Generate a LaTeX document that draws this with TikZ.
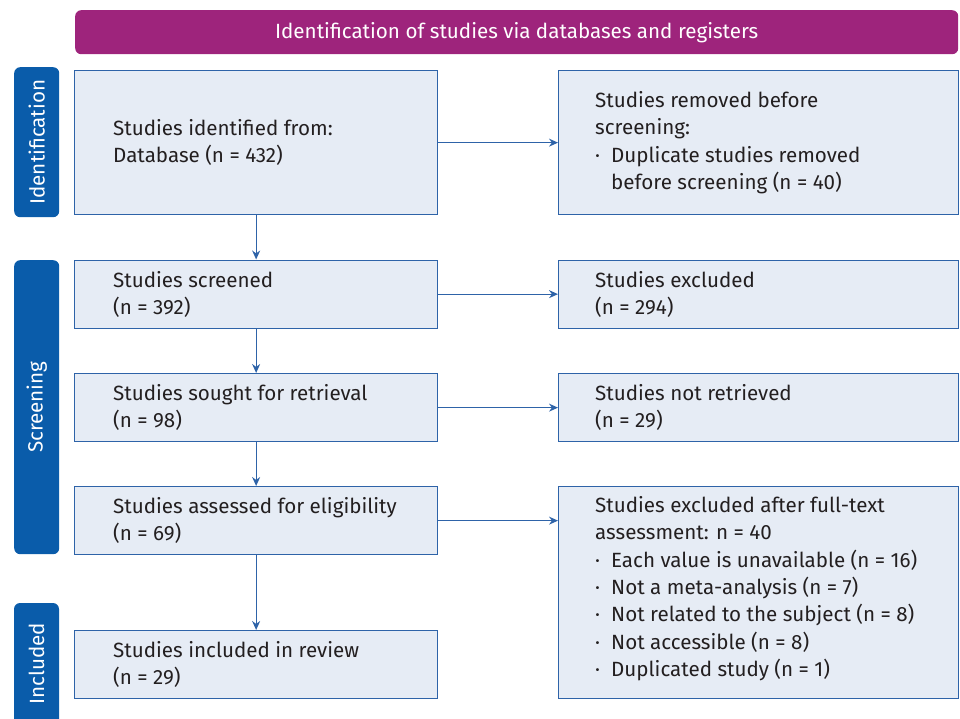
\documentclass[tikz,border=0pt]{standalone}
\usepackage{fontspec}
\setmainfont{Fira Sans}
\usetikzlibrary{arrows.meta}
\definecolor{hdrpurple}{HTML}{9E247C}
\definecolor{barblue}{HTML}{0A5CAA}
\definecolor{boxfill}{HTML}{E6ECF5}
\definecolor{boxline}{HTML}{2E63A8}
\definecolor{txtcol}{HTML}{231F20}
\newcommand{\bul}{\makebox[16pt][l]{\textperiodcentered}}
\newcommand{\ind}{\hspace*{16pt}}
\begin{document}
\begin{tikzpicture}[x=1pt,y=-1pt,
  boxnode/.style={draw=boxline, fill=boxfill, line width=1.3pt, inner sep=0pt, anchor=north west},
  txtnode/.style={inner sep=0pt, anchor=west, align=left, text=txtcol, font=\fontsize{20.6}{27.3}\selectfont},
  sidebar/.style={fill=barblue, rounded corners=6pt},
  sidetxt/.style={text=white, rotate=90, font=\fontsize{20.6}{24}\selectfont, inner sep=0pt},
  flow/.style={draw=boxline, line width=1.3pt, -{Stealth[length=9pt,width=8pt]}}
]
\useasboundingbox (0,0) rectangle (960,719);
% header
\node[fill=hdrpurple, rounded corners=6pt, minimum width=883, minimum height=44, inner sep=0pt, anchor=north west,
      text=white, font=\fontsize{20.6}{24}\selectfont] (hdr) at (75,10) {Identification of studies via databases and registers};
% side bars
\node[sidebar, minimum width=45, minimum height=150, anchor=north west] (sb1) at (14,67) {};
\node[sidetxt] (sbt1) at (sb1.center) {Identification};
\node[sidebar, minimum width=45, minimum height=294, anchor=north west] (sb2) at (14,260) {};
\node[sidetxt] (sbt2) at (sb2.center) {Screening};
\fill[barblue, rounded corners=6pt] (14,735) -- (14,603) -- (59,603) -- (59,735) -- cycle;
\coordinate (sb3) at (36.5,664);
\node[sidetxt] (sbt3) at (sb3) {Included};
% left boxes
\node[boxnode, minimum width=363, minimum height=144] (b1) at (74,70) {};
\node[boxnode, minimum width=363, minimum height=68] (b2) at (74,259.5) {};
\node[boxnode, minimum width=363, minimum height=68] (b3) at (74,373) {};
\node[boxnode, minimum width=363, minimum height=68] (b4) at (74,486) {};
\node[boxnode, minimum width=363, minimum height=68] (b5) at (74,630) {};
% right boxes
\node[boxnode, minimum width=400, minimum height=144] (r1) at (558,70) {};
\node[boxnode, minimum width=400, minimum height=68] (r2) at (558,259.5) {};
\node[boxnode, minimum width=400, minimum height=68] (r3) at (558,373) {};
\node[boxnode, minimum width=400, minimum height=212] (r4) at (558,486) {};
% texts
\node[txtnode] (t1) at ([xshift=39pt]b1.west) {Studies identified from:\\Database (n = 432)};
\node[txtnode] (t2) at ([xshift=39pt]b2.west) {Studies screened\\(n = 392)};
\node[txtnode] (t3) at ([xshift=39pt]b3.west) {Studies sought for retrieval\\(n = 98)};
\node[txtnode] (t4) at ([xshift=39pt]b4.west) {Studies assessed for eligibility\\(n = 69)};
\node[txtnode] (t5) at ([xshift=39pt]b5.west) {Studies included in review\\(n = 29)};
\node[txtnode] (u1) at ([xshift=37pt]r1.west) {Studies removed before\\screening:\\\bul Duplicate studies removed\\\ind before screening (n = 40)};
\node[txtnode] (u2) at ([xshift=37pt]r2.west) {Studies excluded\\(n = 294)};
\node[txtnode] (u3) at ([xshift=37pt]r3.west) {Studies not retrieved\\(n = 29)};
\node[txtnode] (u4) at ([xshift=37pt,yshift=4pt]r4.west) {Studies excluded after full-text\\assessment: n = 40\\\bul Each value is unavailable (n = 16)\\\bul Not a meta-analysis (n = 7)\\\bul Not related to the subject (n = 8)\\\bul Not accessible (n = 8)\\\bul Duplicated study (n = 1)};
% connectors
\draw[flow] (b1.east) -- (r1.west);
\draw[flow] (b2.east) -- (r2.west);
\draw[flow] (b3.east) -- (r3.west);
\draw[flow] (b4.east) -- (b4.east -| r4.west);
\draw[flow] (b1.south) -- (b2.north);
\draw[flow] (b2.south) -- (b3.north);
\draw[flow] (b3.south) -- (b4.north);
\draw[flow] (b4.south) -- (b5.north);
\end{tikzpicture}
\end{document}
